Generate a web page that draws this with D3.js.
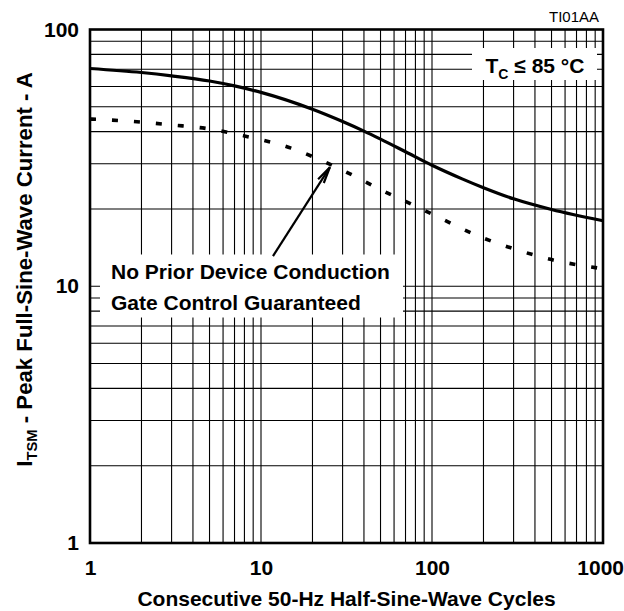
<!DOCTYPE html>
<html>
<head>
<meta charset="utf-8">
<script src="https://cdn.jsdelivr.net/npm/d3@7"></script>
<style>
  body { margin: 0; background: #fff; }
  svg text { font-family: "Liberation Sans", Arial, sans-serif; fill: #000; }
</style>
</head>
<body>
<script>
// cycles vs peak surge current
var cycles = [1, 2, 3, 5, 7, 10, 20, 30, 40, 50, 70, 100, 150, 200, 300, 500, 1000]
var guaranteed = [70.5, 68, 66, 63, 60.3, 56.9, 48.9, 43.8, 40.2, 37.4, 33.4, 29.6, 26.2, 24.2, 21.9, 19.9, 18]

var cyclesNoPrior = [1, 2, 3, 5, 8, 10, 15, 20, 26, 35, 50, 70, 100, 200, 300, 500, 1000]
var noPrior = [44.8, 43.6, 42.5, 41, 38.5, 37.2, 34.5, 32, 29.6, 26.9, 23.8, 21.4, 19.1, 15.4, 14, 12.7, 11.7]

var xTicks = [1, 10, 100, 1000]
var yTicks = [1, 10, 100]

;(function () {
    var width = 624, height = 611
    var margin = { top: 29.5, right: 21, bottom: 68, left: 90 }
    var w = width - margin.left - margin.right,
        h = height - margin.top - margin.bottom

    var x = d3.scaleLog().domain([1, 1000]).range([0, w])
    var y = d3.scaleLog().domain([1, 100]).range([h, 0])

    var svg = d3.select('body').append('svg')
        .attr('width', width)
        .attr('height', height)

    var g = svg.append('g')
        .attr('transform', 'translate(' + margin.left + ',' + margin.top + ')')

    // grid
    g.append('g').selectAll('line')
        .data(x.ticks())
        .enter().append('line')
        .attr('x1', x).attr('x2', x)
        .attr('y1', 0).attr('y2', h)
        .attr('stroke', '#000').attr('stroke-width', 1.1)
    g.append('g').selectAll('line')
        .data(y.ticks())
        .enter().append('line')
        .attr('y1', y).attr('y2', y)
        .attr('x1', 0).attr('x2', w)
        .attr('stroke', '#000').attr('stroke-width', 1.1)

    // white boxes behind the notes
    g.append('rect')
        .attr('x', 382).attr('y', 18.5)
        .attr('width', 125).attr('height', 32)
        .attr('fill', '#fff')
    g.append('rect')
        .attr('x', 10).attr('y', 225)
        .attr('width', 303).attr('height', 63)
        .attr('fill', '#fff')

    var line = d3.line()
        .x(function (d) { return x(d[0]) })
        .y(function (d) { return y(d[1]) })
        .curve(d3.curveMonotoneX)

    g.append('path')
        .datum(d3.zip(cycles, guaranteed))
        .attr('d', line)
        .attr('fill', 'none')
        .attr('stroke', '#000')
        .attr('stroke-width', 3.2)

    g.append('path')
        .datum(d3.zip(cyclesNoPrior, noPrior))
        .attr('d', line)
        .attr('fill', 'none')
        .attr('stroke', '#000')
        .attr('stroke-width', 3.6)
        .attr('stroke-dasharray', '6,16')

    // frame
    g.append('rect')
        .attr('width', w).attr('height', h)
        .attr('fill', 'none')
        .attr('stroke', '#000')
        .attr('stroke-width', 2.6)

    // axes
    var xAxis = g.append('g')
        .attr('transform', 'translate(0,' + h + ')')
        .call(d3.axisBottom(x).tickValues(xTicks).tickSize(0).tickPadding(17).tickFormat(d3.format('d')))
    var yAxis = g.append('g')
        .call(d3.axisLeft(y).tickValues(yTicks).tickSize(0).tickPadding(11).tickFormat(d3.format('d')))
    ;[xAxis, yAxis].forEach(function (a) {
        a.select('.domain').remove()
        a.selectAll('text')
            .attr('font-size', 21)
            .attr('font-weight', 'bold')
            .attr('font-family', '"Liberation Sans", Arial, sans-serif')
    })
    // last x label sits against the right edge
    xAxis.selectAll('.tick text')
        .filter(function (d) { return d === 1000 })
        .attr('text-anchor', 'end')
        .attr('x', 20.5)

    // axis titles
    svg.append('text')
        .attr('x', margin.left + w / 2)
        .attr('y', 606)
        .attr('text-anchor', 'middle')
        .attr('font-size', 21)
        .attr('font-weight', 'bold')
        .text('Consecutive 50-Hz Half-Sine-Wave Cycles')

    var yt = svg.append('text')
        .attr('transform', 'translate(31.5,269.5) rotate(-90)')
        .attr('text-anchor', 'middle')
        .attr('font-size', 22.2)
        .attr('font-weight', 'bold')
    yt.append('tspan').text('I')
    yt.append('tspan').attr('font-size', 14.8).attr('dy', 5).text('TSM')
    yt.append('tspan').attr('dy', -5).text(' - Peak Full-Sine-Wave Current - A')

    // notes
    var tc = g.append('text')
        .attr('x', 395.5).attr('y', 43.5)
        .attr('font-size', 21)
        .attr('font-weight', 'bold')
    tc.append('tspan').text('T')
    tc.append('tspan').attr('font-size', 14).attr('dy', 6).text('C')
    tc.append('tspan').attr('dy', -6).text(' \u2264 85 \u00b0C')

    g.append('text')
        .attr('x', 21).attr('y', 249.5)
        .attr('font-size', 21)
        .attr('font-weight', 'bold')
        .text('No Prior Device Conduction')
    g.append('text')
        .attr('x', 21).attr('y', 280.5)
        .attr('font-size', 21)
        .attr('font-weight', 'bold')
        .text('Gate Control Guaranteed')

    // arrow to the dotted curve
    var tip = [x(25.3), y(29.1)], tail = [x(11.75), y(13.1)]
    var ang = Math.atan2(tip[1] - tail[1], tip[0] - tail[0])
    var hl = 17, hw = 0.2
    g.append('line')
        .attr('x1', tail[0]).attr('y1', tail[1])
        .attr('x2', tip[0]).attr('y2', tip[1])
        .attr('stroke', '#000').attr('stroke-width', 2.2)
    g.append('path')
        .attr('d', 'M' + (tip[0] - hl * Math.cos(ang - hw)) + ',' + (tip[1] - hl * Math.sin(ang - hw)) +
            'L' + tip[0] + ',' + tip[1] +
            'L' + (tip[0] - hl * Math.cos(ang + hw)) + ',' + (tip[1] - hl * Math.sin(ang + hw)))
        .attr('fill', 'none')
        .attr('stroke', '#000').attr('stroke-width', 2.2)

    svg.append('text')
        .attr('x', 599).attr('y', 22)
        .attr('text-anchor', 'end')
        .attr('font-size', 15)
        .text('TI01AA')
})()
</script>
</body>
</html>
